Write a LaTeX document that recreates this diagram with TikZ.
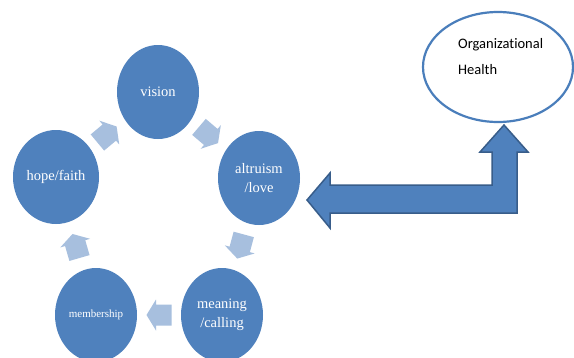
\documentclass[tikz,border=0pt]{standalone}
\usepackage{fontspec}
\setmainfont{Liberation Serif}
\newfontfamily\calib[Ligatures=NoCommon]{Carlito}
\usetikzlibrary{shapes.geometric,calc}
\definecolor{cycblue}{HTML}{4F81BD}
\definecolor{cyclight}{RGB}{167,191,222}
\definecolor{bigedge}{HTML}{385D8A}
\definecolor{elledge}{HTML}{4A7EBB}
\tikzset{
  cyc/.style={ellipse, fill=cycblue, minimum width=82pt, minimum height=94pt,
    inner sep=0pt, text=white, align=center,
    font=\fontsize{14.5}{19}\selectfont},
  cycarrow/.style={fill=cyclight},
  bigarrow/.style={fill=cycblue, draw=bigedge, line width=1.5pt, line join=miter},
  orgell/.style={ellipse, draw=elledge, fill=white, line width=2.2pt,
    minimum width=150pt, minimum height=110pt, inner sep=0pt},
  orgtext/.style={anchor=west, align=left, inner sep=0pt,
    font=\calib\fontsize{14.5}{26}\selectfont}
}
\begin{document}
\begin{tikzpicture}[x=1pt,y=-1pt]
\useasboundingbox (0,0) rectangle (574,357);
\clip (0,0) rectangle (574,357);
\fill[white] (0,0) rectangle (574,357);
% cycle circles
\node[cyc] (vision) at (158,92) {vision};
\node[cyc] (altr) at (259,178) {altruism\\/love};
\node[cyc] (mean) at (222,315) {meaning\\/calling};
\node[cyc, font=\fontsize{11}{13}\selectfont] (memb) at (96,315) {membership};
\node[cyc, minimum width=86pt] (hope) at (56,177) {hope/faith};
% cycle arrows
\foreach \a/\b in {hope/vision, vision/altr, altr/mean, mean/memb, memb/hope}{
  \pgfmathanglebetweenpoints{\pgfpointanchor{\a}{center}}{\pgfpointanchor{\b}{center}}
  \let\ang\pgfmathresult
  \begin{scope}[shift={($(\a.center)!0.5!(\b.center)$)}, rotate=\ang]
    \fill[cycarrow] (-12.5,-10.5) -- (3,-10.5) -- (3,-15.5) -- (12.5,0) -- (3,15.5) -- (3,10.5) -- (-12.5,10.5) -- cycle;
  \end{scope}
}
% organizational health
\node[orgell] (org) at (498,67) {};
\node[orgtext] (orgt) at (458,57) {Organizational\\Health};
% big bent double arrow
\coordinate (ltip) at (307,200);
\coordinate (utip) at (504,125);
\draw[bigarrow] (ltip) -- (330,173) -- (330,185) -- (492,185) -- (492,152)
  -- (480,152) -- (utip) -- (528,152) -- (517,152) -- (517,213)
  -- (330,213) -- (330,228) -- cycle;
\end{tikzpicture}
\end{document}
